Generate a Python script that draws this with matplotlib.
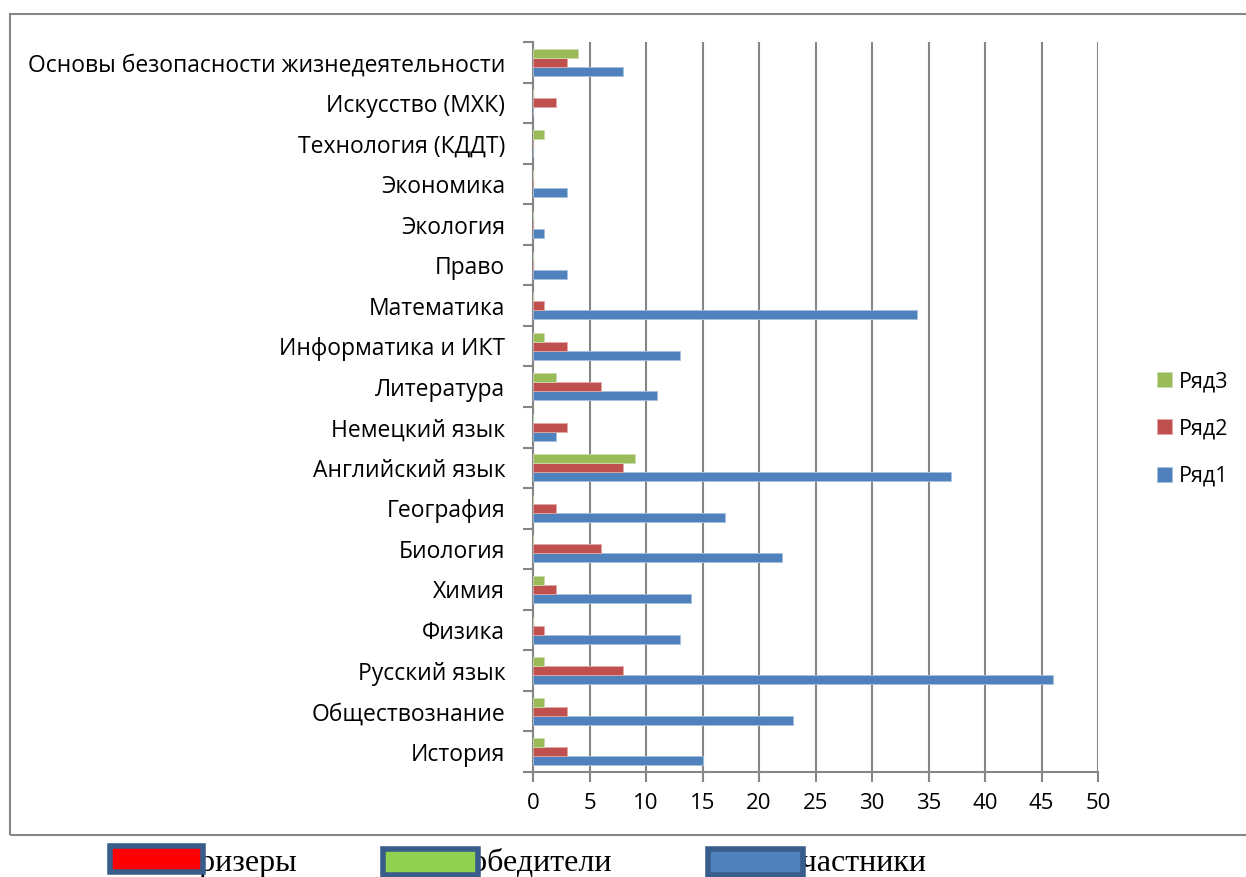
import numpy as np
import matplotlib.pyplot as plt
from matplotlib.patches import Rectangle

# предметы снизу вверх
predmety = ['История', 'Обществознание', 'Русский язык', 'Физика', 'Химия',
            'Биология', 'География', 'Английский язык', 'Немецкий язык',
            'Литература', 'Информатика и ИКТ', 'Математика', 'Право',
            'Экология', 'Экономика', 'Технология (КДДТ)', 'Искусство (МХК)',
            'Основы безопасности жизнедеятельности']
ryad1 = [15, 23, 46, 13, 14, 22, 17, 37, 2, 11, 13, 34, 3, 1, 3, 0, 0, 8]
ryad2 = [3, 3, 8, 1, 2, 6, 2, 8, 3, 6, 3, 1, 0, 0, 0, 0, 2, 3]
ryad3 = [1, 1, 1, 0, 1, 0, 0, 9, 0, 2, 1, 0, 0, 0, 0, 1, 0, 4]
legenda_niz = ['Призеры', 'Победители', 'Участники']

plt.rcParams['font.family'] = ['Open Sans', 'DejaVu Sans']

fig = plt.figure(figsize=(12.46, 8.77), dpi=100)
W, H = 1246, 877
ax = fig.add_axes([533 / W, 1 - 772 / H, (1098 - 533) / W, (772 - 42) / H])

# рамка диаграммы
fig.patches.append(Rectangle((10 / W, 1 - 835 / H), 1.2, (835 - 14) / H,
                             transform=fig.transFigure, fill=False,
                             edgecolor='#868686', linewidth=1.5))

y = np.arange(len(predmety))
h = 1 / 4.5
ax.barh(y - h, ryad1, height=h, color='#4f81bd', edgecolor='#a7c0de', linewidth=0.6, label='Ряд1', zorder=3)
ax.barh(y, ryad2, height=h, color='#c0504d', edgecolor='#e0a9a7', linewidth=0.6, label='Ряд2', zorder=3)
ax.barh(y + h, ryad3, height=h, color='#9bbb59', edgecolor='#cddbb0', linewidth=0.6, label='Ряд3', zorder=3)

ax.set_xlim(0, 50)
ax.set_ylim(-0.5, len(predmety) - 0.5)
ax.set_xticks(np.arange(0, 51, 5))
ax.set_yticks(y)
ax.set_yticklabels(predmety)
ax.set_yticks(np.arange(-0.5, len(predmety), 1), minor=True)
ax.tick_params(axis='y', which='major', length=0, pad=20, labelsize=16.5)
ax.tick_params(axis='y', which='minor', length=7, width=1.5, color='#868686')
ax.tick_params(axis='x', length=7, width=1.5, color='#868686', labelsize=16, pad=8)
ax.grid(axis='x', color='#868686', linewidth=1.5, zorder=0)
for s in ['top', 'right']:
    ax.spines[s].set_visible(False)
for s in ['left', 'bottom']:
    ax.spines[s].set_color('#868686')
    ax.spines[s].set_linewidth(1.5)

handles, labels = ax.get_legend_handles_labels()
ax.legend(handles[::-1], labels[::-1], loc='center left', bbox_to_anchor=(1.07, 0.47),
          frameon=False, fontsize=15.5, handlelength=0.7, handleheight=0.7,
          labelspacing=1.22, handletextpad=0.3)

# нижняя "легенда"
tx = [176, 448, 778]
for t, x in zip(legenda_niz, tx):
    fig.text(x / W, 1 - 871 / H, t, fontsize=23, family='Liberation Serif',
             ha='left', va='baseline')
boxes = [(110, 203, 846, '#ff0000'), (383, 478, 849, '#92d050'), (708, 803, 849, '#4f81bd')]
for x0, x1, y0, c in boxes:
    fig.patches.append(Rectangle((x0 / W, 1 - (y0 + 26) / H), (x1 - x0) / W, 26 / H,
                                 transform=fig.transFigure, facecolor=c,
                                 edgecolor='#385d8a', linewidth=4, zorder=5))

fig.savefig('out.png', dpi=100)
